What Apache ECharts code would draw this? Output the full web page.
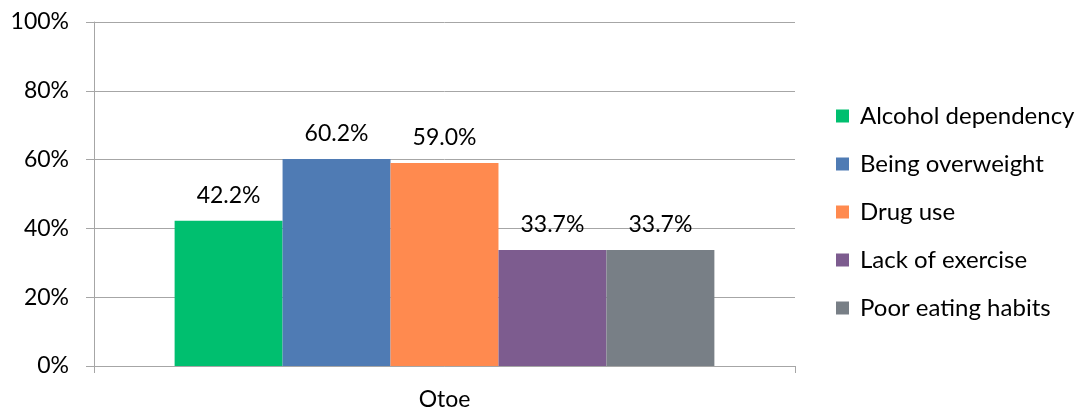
<!DOCTYPE html>
<html>
<head>
<meta charset="utf-8">
<script src="https://cdn.jsdelivr.net/npm/echarts@6/dist/echarts.min.js"></script>
<style>
  html, body { margin: 0; padding: 0; background: #fff; }
  #chart { width: 1084px; height: 413px; }
</style>
</head>
<body>
<div id="chart"></div>
<script>
const categories = ['Otoe']
const seriesNames = ['Alcohol dependency', 'Being overweight', 'Drug use', 'Lack of exercise', 'Poor eating habits']
const seriesValues = [42.2, 60.2, 59.0, 33.7, 33.7]
const seriesColors = ['#00bf6f', '#4f7bb4', '#ff8a4f', '#7d5c8f', '#787f86']
const yTicks = [0, 20, 40, 60, 80, 100]

const font = 'Lato, "Open Sans", sans-serif'
const axisGrey = '#a6a6a6'

const chart = echarts.init(document.getElementById('chart'))

chart.setOption({
  animation: false,
  textStyle: { fontFamily: font },
  grid: { left: 94, right: 289, top: 22, bottom: 47 },
  legend: {
    orient: 'vertical',
    left: 831,
    top: 99,
    icon: 'rect',
    itemWidth: 13,
    itemHeight: 13,
    itemGap: 24,
    textStyle: { fontSize: 24, color: '#000', fontFamily: font, lineHeight: 24, padding: [0, 0, 0, 6] },
    data: seriesNames
  },
  xAxis: {
    type: 'category',
    data: categories,
    axisLine: { lineStyle: { color: axisGrey, width: 1 } },
    axisTick: { show: true, length: 7, lineStyle: { color: axisGrey } },
    axisLabel: { color: '#000', fontSize: 23, margin: 22, fontFamily: font }
  },
  yAxis: {
    type: 'value',
    min: yTicks[0],
    max: yTicks[yTicks.length - 1],
    interval: 20,
    axisLine: { show: true, lineStyle: { color: axisGrey, width: 1 } },
    axisTick: { show: true, length: 8, lineStyle: { color: axisGrey } },
    axisLabel: { color: '#000', fontSize: 23, margin: 25, formatter: '{value}%', fontFamily: font },
    splitLine: { lineStyle: { color: axisGrey, width: 1 } }
  },
  series: seriesNames.map((name, i) => ({
    name,
    type: 'bar',
    data: [seriesValues[i]],
    barGap: '0%',
    barCategoryGap: '23%',
    itemStyle: { color: seriesColors[i] },
    label: {
      show: true,
      position: 'top',
      distance: 14,
      color: '#000',
      fontSize: 23,
      fontFamily: font,
      formatter: (p) => p.value.toFixed(1) + '%'
    }
  }))
})
</script>
</body>
</html>
